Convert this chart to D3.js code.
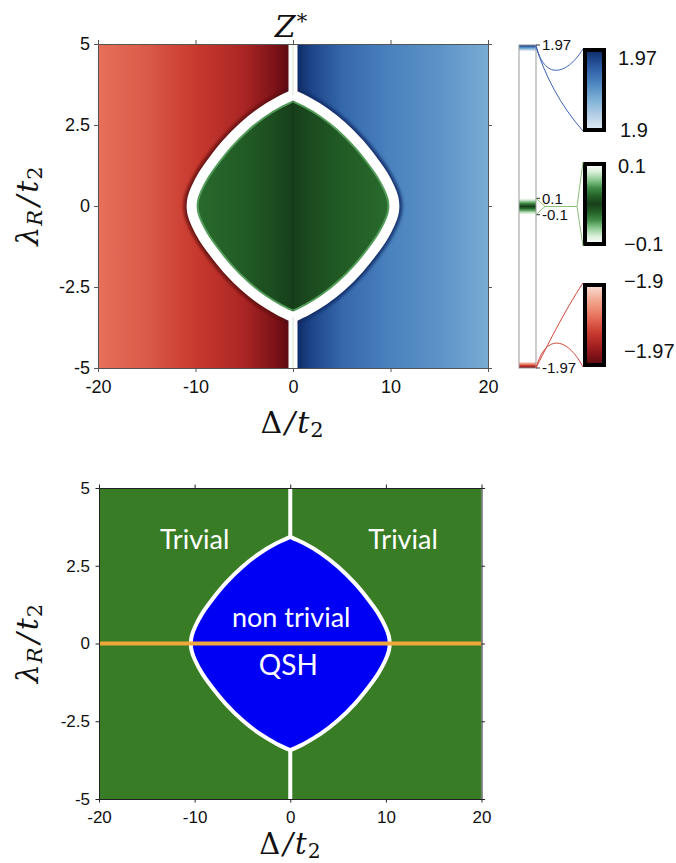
<!DOCTYPE html>
<html>
<head>
<meta charset="utf-8">
<script src="https://cdn.jsdelivr.net/npm/d3@7"></script>
<style>
  body { margin: 0; background: #fff; }
  svg { display: block; }
  .tick text { font-family: "Liberation Sans", Arial, sans-serif; }
  .math { font-family: "DejaVu Serif", "Liberation Serif", serif; font-style: italic; }
  .phase { font-family: Lato, "Liberation Sans", sans-serif; fill: #fff; }
</style>
</head>
<body>
<svg id="chart" width="676" height="863"></svg>
<script>
// phase boundary, upper right quarter (mirrored in Delta and lambda)
const boundaryLambda = [0, 0.25, 0.54, 0.97, 1.4, 1.94, 2.47, 2.9, 3.22, 3.43];
const boundaryDelta = [10.4, 10.3, 9.95, 9.2, 8.2, 6.75, 5.0, 3.2, 1.45, 0];

// Z* along Delta, outside the lens
const outerDelta = [-20, -15, -10, -5, -2, -0.3, 0.3, 2, 5, 10, 15, 20];
const outerZ = [-1.928, -1.9336, -1.942, -1.951, -1.9623, -1.97, 1.97, 1.9616, 1.951, 1.942, 1.9364, 1.928];

// Z* along Delta, inside the lens
const innerDelta = [-10.4, -8, -5, -2, 0, 2, 5, 8, 10.4];
const innerZ = [0.026, 0.022, 0.017, 0.008, 0, -0.008, -0.017, -0.022, -0.026];

const xTicks = [-20, -10, 0, 10, 20];
const xTickLabels = ['-20', '-10', '0', '10', '20'];
const yTicks = [-5, -2.5, 0, 2.5, 5];
const yTickLabels = ['-5', '-2.5', '0', '2.5', '5'];

const barTicks = [1.97, 0.1, -0.1, -1.97];
const barTickLabels = ['1.97', '0.1', '-0.1', '-1.97'];
const insetRanges = [[1.9, 1.97], [-0.1, 0.1], [-1.97, -1.9]];
const insetLabels = [['1.97', '1.9'], ['0.1', '−0.1'], ['−1.9', '−1.97']];

const phaseText = ['Trivial', 'Trivial', 'non trivial', 'QSH'];
const phaseDelta = [-10.0, 11.8, 0.1, -0.2];
const phaseLambda = [3.04, 3.04, 0.53, -1.02];

// colour maps
const redRamp = ['#f9e1d8', '#f2a58c', '#e6705a', '#c8392e', '#9a1b1e', '#5c0a10'];
const blueRamp = ['#e2ecf6', '#b0cde5', '#78acd4', '#4a82be', '#2a58a0', '#0c2a66'];
const greenRamp = ['#173f1a', '#236027', '#3f8c45', '#8cc890', '#d8efd8', '#ffffff'];
const steps = d3.range(6).map((i) => i / 5);
const redScale = d3.scaleLinear().domain(steps.map((t) => -1.9 - 0.07 * t)).range(redRamp).clamp(true);
const blueScale = d3.scaleLinear().domain(steps.map((t) => 1.9 + 0.07 * t)).range(blueRamp).clamp(true);
const greenScale = d3.scaleLinear().domain(steps.map((t) => 0.1 * t)).range(greenRamp).clamp(true);

function zColor(z) {
  if (z <= -1.9) return redScale(z);
  if (z >= 1.9) return blueScale(z);
  if (Math.abs(z) <= 0.1) return greenScale(Math.abs(z));
  return '#ffffff';
}

const svg = d3.select('#chart');
const defs = svg.append('defs');

function gradient(id, values, colours, pos, vertical) {
  const [a, b] = pos.range();
  const g = defs.append('linearGradient').attr('id', id).attr('gradientUnits', 'userSpaceOnUse');
  if (vertical) g.attr('x1', 0).attr('x2', 0).attr('y1', a).attr('y2', b);
  else g.attr('x1', a).attr('x2', b).attr('y1', 0).attr('y2', 0);
  const stops = values
    .map((d, i) => ({ offset: (pos(d) - a) / (b - a), colour: colours[i] }))
    .sort((p, q) => p.offset - q.offset);
  g.selectAll('stop')
    .data(stops)
    .join('stop')
    .attr('offset', (d) => d.offset)
    .attr('stop-color', (d) => d.colour);
}

// lens outline built from the boundary points
const half = boundaryLambda.map((l, i) => [boundaryDelta[i], l]);
const rightSide = [...half.slice().reverse(), ...half.slice(1).map(([d, l]) => [d, -l])];
const leftSide = rightSide.map(([d, l]) => [-d, -l]);
const tipLambda = d3.max(boundaryLambda);

function lensPath(x, y) {
  const line = d3.line().x((p) => x(p[0])).y((p) => y(p[1])).curve(d3.curveCatmullRom.alpha(0.5));
  return line(rightSide) + line(leftSide).replace(/^M/, 'L') + 'Z';
}

// parts: [text, kind, dx]
function mathLabel(sel, parts, size) {
  const t = sel.attr('class', 'math').attr('font-size', size).attr('fill', '#111');
  parts.forEach(([txt, kind, dx]) => {
    const s = t.append('tspan').text(txt);
    if (dx) s.attr('dx', dx);
    if (kind === 'up') s.attr('font-style', 'normal');
    if (kind === 'sub') s.attr('font-size', size * 0.7).attr('baseline-shift', '-20%');
    if (kind === 'subup') s.attr('font-size', size * 0.7).attr('baseline-shift', '-20%').attr('font-style', 'normal');
    if (kind === 'sup') s.attr('font-size', size * 0.7).attr('baseline-shift', '45%').attr('font-style', 'normal');
  });
  return t;
}
const deltaParts = [['Δ', 'up'], ['/', '', 3], ['t', '', 2], ['2', 'subup', 1]];
const lambdaParts = [['λ'], ['R', 'sub', 1], ['/', '', 4], ['t', '', 3], ['2', 'subup', 1]];

function frame(g, x, y, colour, tick, padX, padY, size) {
  const [x0, x1] = x.range();
  const [y1, y0] = y.range();
  const axes = [
    [d3.axisBottom(x).tickValues(xTicks).tickFormat((d, i) => xTickLabels[i]).tickPadding(padX), `translate(0,${y1})`],
    [d3.axisTop(x).tickValues(xTicks).tickFormat(''), `translate(0,${y0})`],
    [d3.axisLeft(y).tickValues(yTicks).tickFormat((d, i) => yTickLabels[i]).tickPadding(padY), `translate(${x0},0)`],
    [d3.axisRight(y).tickValues(yTicks).tickFormat(''), `translate(${x1},0)`],
  ];
  axes.forEach(([ax, tr]) => {
    const a = g.append('g').attr('transform', tr).call(ax.tickSize(tick).tickSizeOuter(0));
    a.selectAll('path, line').attr('stroke', colour);
    a.selectAll('text').attr('font-size', size).attr('fill', '#111');
  });
}

// ---------- top panel: Z* ----------
const xTop = d3.scaleLinear().domain([-20, 20]).range([98, 488]);
const yTop = d3.scaleLinear().domain([-5, 5]).range([368, 44]);

gradient('zOuter', outerDelta, outerZ.map(zColor), xTop, false);
gradient('zInner', innerDelta, innerZ.map(zColor), xTop, false);
gradient('zRim', [-1, 1], [zColor(-1.97), zColor(1.97)], xTop, false);

defs.append('clipPath').attr('id', 'topClip').append('rect')
  .attr('x', 98).attr('y', 44).attr('width', 390).attr('height', 324);
defs.append('clipPath').attr('id', 'lensClip').append('path').attr('d', lensPath(xTop, yTop));
defs.append('filter').attr('id', 'soft').append('feGaussianBlur').attr('stdDeviation', 1.4);

const topG = svg.append('g').attr('clip-path', 'url(#topClip)');
topG.append('rect').attr('x', 98).attr('y', 44).attr('width', 390).attr('height', 324).attr('fill', 'url(#zOuter)');
topG.append('path').attr('d', lensPath(xTop, yTop)).attr('fill', 'none')
  .attr('stroke', 'url(#zRim)').attr('stroke-width', 16).attr('stroke-opacity', 0.85).attr('filter', 'url(#soft)');
topG.append('path').attr('d', lensPath(xTop, yTop)).attr('fill', 'url(#zInner)');
topG.append('g').attr('clip-path', 'url(#lensClip)').append('path').attr('d', lensPath(xTop, yTop))
  .attr('fill', 'none').attr('stroke', zColor(0.045)).attr('stroke-width', 14);
topG.append('line')
  .attr('x1', xTop(0)).attr('x2', xTop(0)).attr('y1', yTop(tipLambda)).attr('y2', yTop(-tipLambda))
  .attr('stroke', '#143616').attr('stroke-opacity', 0.3).attr('stroke-width', 1.5);
topG.append('path').attr('d', lensPath(xTop, yTop)).attr('fill', 'none')
  .attr('stroke', '#fff').attr('stroke-width', 10);
[[5, tipLambda], [-tipLambda, -5]].forEach(([a, b]) => {
  topG.append('line').attr('x1', xTop(0)).attr('x2', xTop(0)).attr('y1', yTop(a)).attr('y2', yTop(b))
    .attr('stroke', '#fff').attr('stroke-width', 9);
  topG.append('line').attr('x1', xTop(0)).attr('x2', xTop(0)).attr('y1', yTop(a)).attr('y2', yTop(b))
    .attr('stroke', '#cfe5cf').attr('stroke-width', 1);
});

frame(svg.append('g'), xTop, yTop, '#555', 4, 8, 4, 18);

mathLabel(svg.append('text').attr('x', xTop(0) - 2).attr('y', 37).attr('text-anchor', 'middle'), [['Z'], ['*', 'sup', 1]], 30);
mathLabel(svg.append('text').attr('x', 292).attr('y', 433).attr('text-anchor', 'middle'), deltaParts, 30);
mathLabel(svg.append('text').attr('text-anchor', 'middle').attr('transform', `translate(38,${yTop(0)}) rotate(-90)`),
  lambdaParts, 30);

// ---------- colour bar with zoomed insets ----------
const cb = d3.scaleLinear().domain([-1.97, 1.97]).range([368, 45]);
const cbStops = [
  ...d3.range(8).map((i) => -1.97 + (0.07 * i) / 7),
  -1.895,
  ...d3.range(9).map((i) => -0.1 + (0.2 * i) / 8),
  1.895,
  ...d3.range(8).map((i) => 1.9 + (0.07 * i) / 7),
];
gradient('cbMain', cbStops, cbStops.map(zColor), cb, true);
svg.append('rect').attr('x', 519).attr('y', cb(1.97)).attr('width', 17).attr('height', cb(-1.97) - cb(1.97))
  .attr('fill', 'url(#cbMain)').attr('stroke', '#999').attr('stroke-width', 1);
const cbG = svg.append('g');
cbG.selectAll('line').data(barTicks).join('line')
  .attr('x1', 536).attr('x2', 540).attr('y1', (d) => cb(d)).attr('y2', (d) => cb(d)).attr('stroke', '#333');
cbG.selectAll('text').data(barTicks).join('text')
  .attr('x', 542).attr('y', (d) => cb(d)).attr('dy', '0.35em')
  .attr('font-family', '"Liberation Sans", Arial, sans-serif').attr('font-size', 15).attr('fill', '#111')
  .text((d, i) => barTickLabels[i]);

const insetTops = [50, 164, 285];
const insetH = 80;
const insetLinks = ['#3d62b3', '#8cc07a', '#d0463a'];
insetRanges.forEach(([lo, hi], k) => {
  const s = d3.scaleLinear().domain([hi, lo]).range([insetTops[k], insetTops[k] + insetH]);
  const vals = d3.range(11).map((i) => lo + ((hi - lo) * i) / 10);
  gradient(`inset${k}`, vals, vals.map(zColor), s, true);
  svg.append('rect').attr('x', 585).attr('y', insetTops[k]).attr('width', 19).attr('height', insetH)
    .attr('fill', `url(#inset${k})`).attr('stroke', '#000').attr('stroke-width', 4);
  const lab = svg.append('g').attr('font-family', '"Liberation Sans", Arial, sans-serif')
    .attr('font-size', 20).attr('fill', '#111');
  lab.append('text').attr('x', k === 2 ? 624 : 618).attr('y', insetTops[k] + (k === 0 ? 8 : k === 1 ? 2 : -4))
    .attr('dy', '0.35em').text(insetLabels[k][0]);
  lab.append('text').attr('x', k === 0 ? 620 : 624).attr('y', insetTops[k] + insetH + (k === 2 ? -14 : 0))
    .attr('dy', '0.35em').text(insetLabels[k][1]);
});

// connectors from the bar to the insets
const L = 536, R = 583;
const blueA = d3.path();
blueA.moveTo(L, cb(1.97)); blueA.bezierCurveTo(544, 80, 566, 76, R, insetTops[0] - 1);
const blueB = d3.path();
blueB.moveTo(L, cb(1.97) + 2); blueB.bezierCurveTo(545, 75, 560, 105, R, insetTops[0] + insetH + 1);
const mid = cb(0);
const green = d3.path();
green.moveTo(L, cb(0.1)); green.lineTo(545, mid); green.lineTo(L, cb(-0.1));
green.moveTo(545, mid); green.lineTo(577, mid);
green.moveTo(R, insetTops[1] - 2); green.lineTo(577, mid); green.lineTo(R, insetTops[1] + insetH + 2);
const redA = d3.path();
redA.moveTo(L, cb(-1.97)); redA.bezierCurveTo(545, 350, 565, 310, R, insetTops[2] - 2);
const redB = d3.path();
redB.moveTo(L, cb(-1.97)); redB.bezierCurveTo(545, 335, 566, 335, R, insetTops[2] + insetH + 2);
[[blueA, 0], [blueB, 0], [green, 1], [redA, 2], [redB, 2]].forEach(([p, k]) => {
  svg.append('path').attr('d', p.toString()).attr('fill', 'none')
    .attr('stroke', insetLinks[k]).attr('stroke-width', 1);
});

// ---------- bottom panel: phase diagram ----------
const xBot = d3.scaleLinear().domain([-20, 20]).range([99, 481.5]);
const yBot = d3.scaleLinear().domain([-5, 5]).range([799, 488]);
defs.append('clipPath').attr('id', 'botClip').append('rect')
  .attr('x', 99).attr('y', 488).attr('width', 382.5).attr('height', 311);
const botG = svg.append('g').attr('clip-path', 'url(#botClip)');
botG.append('rect').attr('x', 99).attr('y', 488).attr('width', 382.5).attr('height', 311).attr('fill', '#387c25');
botG.append('path').attr('d', lensPath(xBot, yBot)).attr('fill', '#0000f5')
  .attr('stroke', '#fff').attr('stroke-width', 4);
[[5, tipLambda], [-tipLambda, -5]].forEach(([a, b]) => {
  botG.append('line').attr('x1', xBot(0)).attr('x2', xBot(0)).attr('y1', yBot(a)).attr('y2', yBot(b))
    .attr('stroke', '#fff').attr('stroke-width', 4);
});
botG.append('line').attr('x1', xBot(-20)).attr('x2', xBot(20)).attr('y1', yBot(0)).attr('y2', yBot(0))
  .attr('stroke', '#f0a73b').attr('stroke-width', 4);

botG.selectAll('text.phase').data(phaseText).join('text')
  .attr('class', 'phase')
  .attr('x', (d, i) => xBot(phaseDelta[i])).attr('y', (d, i) => yBot(phaseLambda[i]))
  .attr('text-anchor', 'middle').attr('font-size', (d, i) => (i === 3 ? 28 : 27))
  .text((d) => d);

frame(svg.append('g'), xBot, yBot, '#222', 3.5, 8.5, 5.5, 17);

mathLabel(svg.append('text').attr('x', 290).attr('y', 854).attr('text-anchor', 'middle'), deltaParts, 29);
mathLabel(svg.append('text').attr('text-anchor', 'middle').attr('transform', `translate(38,${yBot(0)}) rotate(-90)`),
  lambdaParts, 30);
</script>
</body>
</html>
